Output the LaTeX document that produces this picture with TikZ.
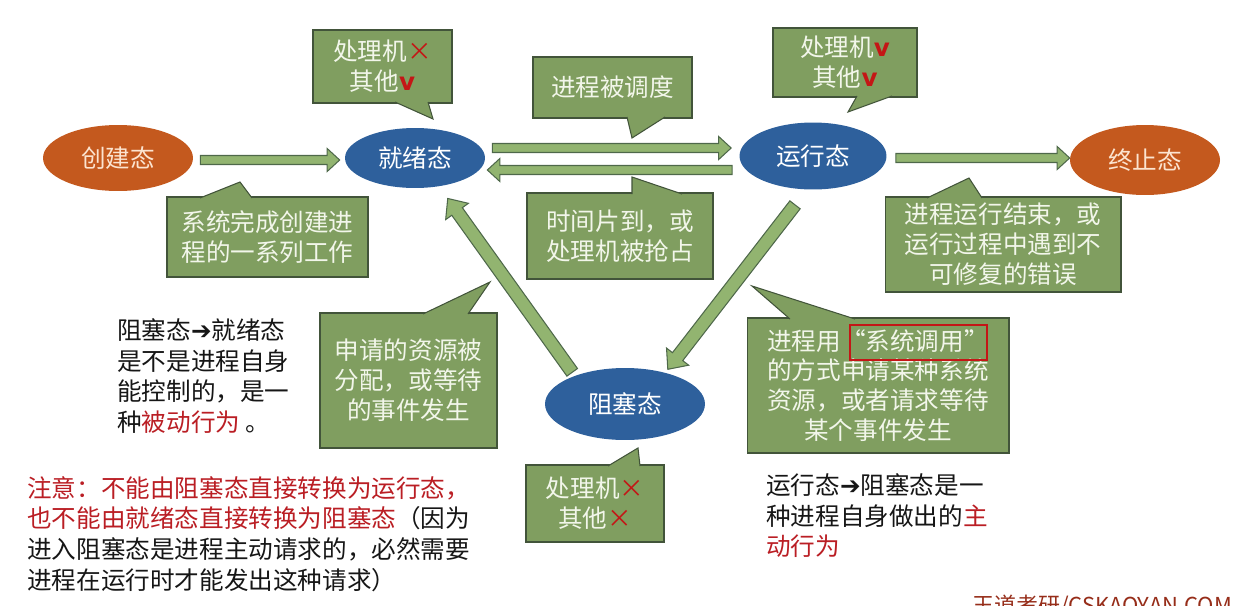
\documentclass[tikz,border=0pt]{standalone}
\usepackage{fontspec}
\setmainfont{Noto Sans CJK SC}
\newfontfamily\symfont{DejaVu Sans}
\usetikzlibrary{shapes.geometric,calc}

\definecolor{newfill}{RGB}{196,89,30}
\definecolor{newtext}{RGB}{252,228,208}
\definecolor{runfill}{RGB}{46,96,156}
\definecolor{arrowfill}{RGB}{146,180,112}
\definecolor{arrowline}{RGB}{78,104,74}
\definecolor{boxfill}{RGB}{128,158,96}
\definecolor{boxline}{RGB}{66,84,58}
\definecolor{boxtext}{RGB}{242,246,234}
\definecolor{notered}{RGB}{186,30,36}
\definecolor{markred}{RGB}{196,22,22}
\definecolor{inkblack}{RGB}{22,22,22}
\definecolor{markbrown}{RGB}{150,45,25}

\newcommand{\bad}{\textcolor{markred}{×}}
\newcommand{\good}{\textcolor{markred}{{\symfont\bfseries v}}}

\tikzset{
  shaftw/.store in=\arrowshaft, headw/.store in=\arrowhead, headl/.store in=\arrowlen,
  shaftw=0.09cm, headw=0.23cm, headl=0.25cm,
  state/.style={ellipse, inner sep=0pt, text=white, font=\fontsize{14pt}{17pt}\selectfont},
  endstate/.style={state, fill=newfill, text=newtext},
  midstate/.style={state, fill=runfill},
  callbox/.style={rectangle, fill=boxfill, draw=boxline, line width=0.6pt, inner sep=0pt,
    text=boxtext, align=center, font=\fontsize{14pt}{17pt}\selectfont},
  tail/.style={fill=boxfill, draw=boxline, line width=0.6pt},
  remark/.style={align=left, inner sep=0pt, text=inkblack, font=\fontsize{14pt}{17.4pt}\selectfont},
  blockarrow/.style={fill=arrowfill, draw=arrowline, line width=0.6pt,
    to path={
      ($(\tikztostart)!\arrowshaft!90:(\tikztotarget)$)
      -- ($($(\tikztotarget)!\arrowlen!(\tikztostart)$)!\arrowshaft!90:(\tikztotarget)$)
      -- ($($(\tikztotarget)!\arrowlen!(\tikztostart)$)!\arrowhead!90:(\tikztotarget)$)
      -- (\tikztotarget)
      -- ($($(\tikztotarget)!\arrowlen!(\tikztostart)$)!\arrowhead!-90:(\tikztotarget)$)
      -- ($($(\tikztotarget)!\arrowlen!(\tikztostart)$)!\arrowshaft!-90:(\tikztotarget)$)
      -- ($(\tikztostart)!\arrowshaft!-90:(\tikztotarget)$)
      -- cycle}},
  widearrow/.style={blockarrow, shaftw=0.13cm, headw=0.28cm, headl=0.32cm}
}

\begin{document}
\begin{tikzpicture}[x=0.02cm, y=-0.02cm]
\useasboundingbox (0,0) rectangle (1250,605);

\node[endstate, minimum width=3cm, minimum height=1.32cm] (new) at (118,158) {创建态};
\node[midstate, minimum width=2.8cm, minimum height=1.2cm] (ready) at (415,158) {就绪态};
\node[midstate, minimum width=2.94cm, minimum height=1.34cm] (run) at (813,156) {运行态};
\node[endstate, minimum width=3cm, minimum height=1.4cm] (exit) at (1145,160) {终止态};
\node[midstate, minimum width=3.2cm, minimum height=1.44cm] (blocked) at (625,404) {阻塞态};

\coordinate (a1s) at ([shift={(7,2)}]new.east);
\coordinate (a1e) at ([shift={(-5,2)}]ready.west);
\coordinate (a2s) at ([shift={(7,-10)}]ready.east);
\coordinate (a2e) at ([shift={(-8,-8)}]run.west);
\coordinate (a3s) at ([shift={(-7,14)}]run.west);
\coordinate (a3e) at ([shift={(2,12)}]ready.east);
\coordinate (a4s) at ([shift={(9,2)}]run.east);
\coordinate (a4e) at ([shift={(0,-2)}]exit.west);
\coordinate (a5s) at ([shift={(4,-6)}]blocked.north west);
\coordinate (a5e) at ([shift={(-17,19)}]ready.south east);
\coordinate (a6s) at ([shift={(-18,15)}]run.south);
\coordinate (a6e) at ([shift={(-14,-9)}]blocked.north east);

\foreach \s/\e in {a1s/a1e, a2s/a2e, a3s/a3e, a4s/a4e}
  \draw[blockarrow] (\s) to (\e);
\foreach \s/\e in {a5s/a5e, a6s/a6e}
  \draw[widearrow] (\s) to (\e);

\node[callbox, minimum width=2.78cm, minimum height=1.46cm] (cready) at (382.5,66.5) {处理机\bad\\其他\good};
\filldraw[tail] (395,102) -- (433,119) -- (428,102);

\node[callbox, minimum width=2.88cm, minimum height=1.38cm] (crun) at (845,62.5) {处理机\good\\其他\good};
\filldraw[tail] (857,96) -- (848,112) -- (892,96);

\node[callbox, minimum width=3.18cm, minimum height=1.22cm] (csched) at (612.5,87.5) {进程被调度};
\filldraw[tail] (627,117) -- (632,138) -- (665,117);

\node[callbox, minimum width=4.02cm, minimum height=1.6cm] (ccreate) at (267.5,237) {系统完成创建进\\程的一系列工作};
\filldraw[tail] (200,198) -- (240,182) -- (252,198);

\node[callbox, minimum width=3.72cm, minimum height=1.72cm] (cslice) at (620,236) {时间片到，或\\处理机被抢占};
\filldraw[tail] (632,194) -- (632,177) -- (682,194);

\node[callbox, minimum width=4.72cm, minimum height=1.9cm] (cend) at (1003,244.5) {进程运行结束，或\\运行过程中遇到不\\可修复的错误};
\filldraw[tail] (927,198) -- (969,178) -- (982,198);

\node[callbox, minimum width=3.54cm, minimum height=2.7cm] (cwait) at (408.5,380.5) {申请的资源被\\分配，或等待\\的事件发生};
\filldraw[tail] (423,314) -- (490,282) -- (468,314);

\node[callbox, minimum width=5.24cm, minimum height=2.7cm] (csys) at (878,385.5) {进程用“系统调用”\\的方式申请某种系统\\资源，或者请求等待\\某个事件发生};
\filldraw[tail] (790,319) -- (752,286) -- (855,319);
\draw[markred, line width=1.5pt] (850,325) rectangle (987,360);

\node[callbox, minimum width=2.76cm, minimum height=1.54cm] (cblock) at (595,503.5) {处理机\bad\\其他\bad};
\filldraw[tail] (608,466) -- (638,448) -- (640,466);

\node[remark, anchor=west] (hint1) at (117,376) {阻塞态{\symfont\bfseries ➔}就绪态\\是不是进程自身\\能控制的，是一\\种\textcolor{notered}{被动行为} 。};
\node[remark, anchor=west] (hint2) at (766,516) {运行态{\symfont\bfseries ➔}阻塞态是一\\种进程自身做出的\textcolor{notered}{主}\\\textcolor{notered}{动行为}};
\node[remark, anchor=west] (note) at (27,534) {\textcolor{notered}{注意：不能由阻塞态直接转换为运行态，}\\\textcolor{notered}{也不能由就绪态直接转换为阻塞态}（因为\\进入阻塞态是进程主动请求的，必然需要\\进程在运行时才能发出这种请求）};

\node[anchor=north west, inner sep=0pt, text=markbrown, font=\fontsize{12.5pt}{14pt}\selectfont] (mark) at (972,595) {王道考研/CSKAOYAN.COM};
\end{tikzpicture}
\end{document}
